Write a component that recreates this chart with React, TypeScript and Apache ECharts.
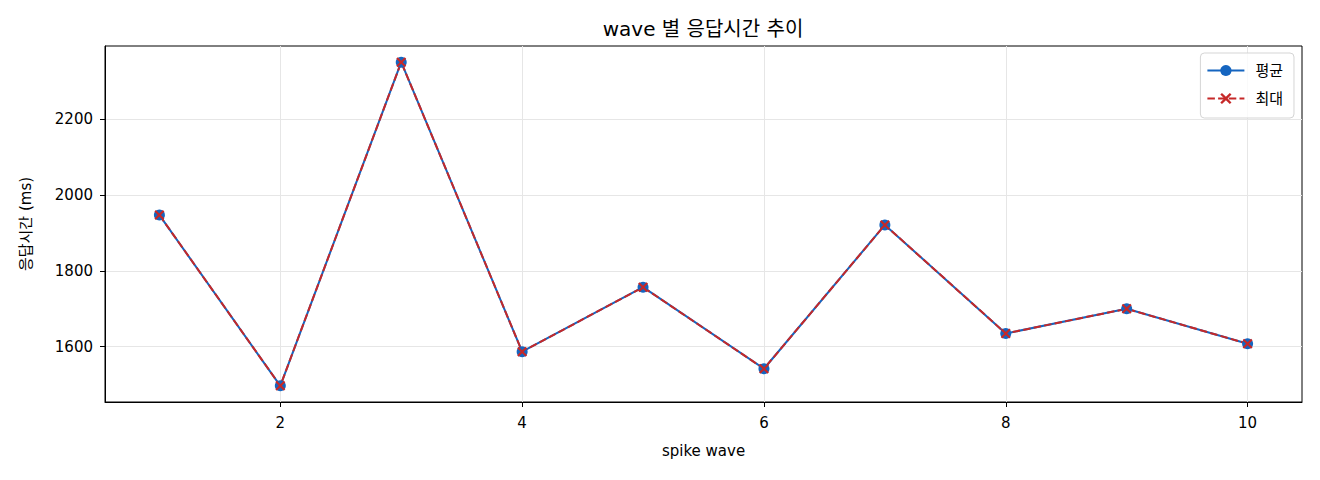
import React, { useEffect, useRef } from "react";
import * as echarts from "echarts";

const waves = [1, 2, 3, 4, 5, 6, 7, 8, 9, 10];
const avgValues = [1947, 1497, 2350, 1587, 1757, 1542, 1921, 1635, 1700, 1608];
const maxValues = [1947, 1497, 2350, 1587, 1757, 1542, 1921, 1635, 1700, 1608];
const xTicks = [2, 4, 6, 8, 10];
const yTicks = [1600, 1800, 2000, 2200];

const FONT = "'DejaVu Sans', 'Noto Sans CJK KR', sans-serif";
const X_MARK =
  "path://M0,1.5L1.5,0L5,3.5L8.5,0L10,1.5L6.5,5L10,8.5L8.5,10L5,6.5L1.5,10L0,8.5L3.5,5Z";

export default function App() {
  const ref = useRef<HTMLDivElement>(null);
  useEffect(() => {
    if (!ref.current) return;
    const chart = echarts.init(ref.current, null, { renderer: "svg" });
    const avgData = waves.map((w, i) => [w, avgValues[i]]);
    const maxData = waves.map((w, i) => [w, maxValues[i]]);
    const lo = Math.min(...avgValues, ...maxValues);
    const hi = Math.max(...avgValues, ...maxValues);
    const pad = (hi - lo) * 0.05;
    chart.setOption({
      animation: false,
      backgroundColor: "#fff",
      textStyle: { fontFamily: FONT },
      title: {
        text: "wave 별 응답시간 추이",
        left: 703,
        textAlign: "center",
        top: 19,
        padding: 0,
        textStyle: { fontFamily: FONT, fontSize: 20, fontWeight: "normal", color: "#000" },
      },
      legend: {
        orient: "vertical",
        right: 26,
        top: 53,
        padding: [10, 11, 12, 6],
        itemGap: 13,
        itemWidth: 37,
        itemHeight: 14,
        borderColor: "#d5d5d5",
        borderWidth: 1,
        borderRadius: 4,
        backgroundColor: "rgba(255,255,255,0.8)",
        textStyle: { fontFamily: FONT, fontSize: 15, color: "#000", padding: [0, 0, 0, 6] },
        data: ["평균", "최대"],
      },
      grid: {
        left: 105,
        right: 18,
        top: 46,
        height: 356,
        show: true,
        borderColor: "#000",
        borderWidth: 1,
        containLabel: false,
      },
      xAxis: {
        type: "value",
        min: 0.55,
        max: 10.45,
        name: "spike wave",
        nameLocation: "middle",
        nameGap: 41,
        nameTextStyle: { fontFamily: FONT, fontSize: 15, color: "#000" },
        axisLine: { show: true, lineStyle: { color: "#000", width: 1 } },
        axisTick: { show: true, length: 5, customValues: xTicks, lineStyle: { color: "#000" } },
        axisLabel: {
          customValues: xTicks,
          margin: 13,
          fontFamily: FONT,
          fontSize: 15,
          color: "#000",
          formatter: (v: number) => String(v),
        },
        splitLine: { show: true, lineStyle: { color: "#e6e6e6", width: 1 } },
      },
      yAxis: {
        type: "value",
        min: lo - pad,
        max: hi + pad,
        name: "응답시간 (ms)",
        nameLocation: "middle",
        nameGap: 72,
        nameTextStyle: { fontFamily: FONT, fontSize: 15, color: "#000" },
        axisLine: { show: true, lineStyle: { color: "#000", width: 1 } },
        axisTick: { show: true, length: 5, customValues: yTicks, lineStyle: { color: "#000" } },
        axisLabel: {
          customValues: yTicks,
          margin: 12,
          fontFamily: FONT,
          fontSize: 15,
          color: "#000",
          formatter: (v: number) => String(v),
        },
        splitLine: { show: true, lineStyle: { color: "#e6e6e6", width: 1 } },
      },
      series: [
        {
          name: "평균",
          type: "line",
          data: avgData,
          symbol: "circle",
          symbolSize: 11,
          itemStyle: { color: "#1565c0" },
          lineStyle: { color: "#1565c0", width: 2 },
        },
        {
          name: "최대",
          type: "line",
          data: maxData,
          symbol: X_MARK,
          symbolSize: 10,
          itemStyle: { color: "#c62828" },
          lineStyle: { color: "#c62828", width: 2, type: [7.5, 3.2] },
        },
      ],
    });
    return () => chart.dispose();
  }, []);
  return (
    <div
      ref={ref}
      style={{ position: "absolute", left: 0, top: 0, width: 1320, height: 480 }}
    />
  );
}
